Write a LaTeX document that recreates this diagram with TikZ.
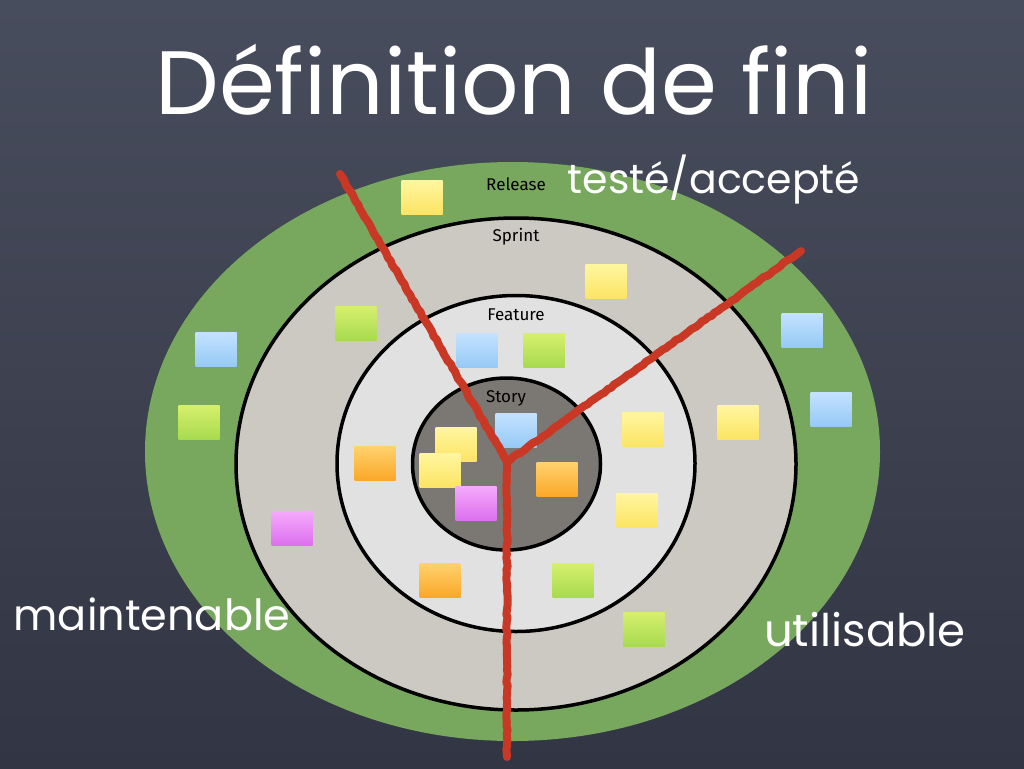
\documentclass[tikz,border=0pt]{standalone}
\usepackage{fontspec}
\setmainfont{Fira Sans}
\newfontfamily\chalk{Poppins}
\usetikzlibrary{decorations.pathmorphing}
\definecolor{bgtop}{RGB}{72,77,93}
\definecolor{bgbot}{RGB}{50,53,67}
\definecolor{relgreen}{RGB}{120,168,94}
\definecolor{sprintc}{RGB}{204,200,194}
\definecolor{featc}{RGB}{225,225,225}
\definecolor{storyc}{RGB}{123,120,116}
\definecolor{redline}{RGB}{200,56,36}
\definecolor{yelT}{RGB}{255,246,160}\definecolor{yelB}{RGB}{252,228,100}
\definecolor{bluT}{RGB}{196,226,255}\definecolor{bluB}{RGB}{150,202,246}
\definecolor{grnT}{RGB}{214,240,110}\definecolor{grnB}{RGB}{168,218,78}
\definecolor{orgT}{RGB}{255,210,110}\definecolor{orgB}{RGB}{250,168,40}
\definecolor{magT}{RGB}{246,170,252}\definecolor{magB}{RGB}{220,112,238}
\begin{document}
\begin{tikzpicture}[x=1pt,y=-1pt,
  note/.style={minimum width=41pt,minimum height=34pt,inner sep=0pt},
  ynote/.style={note,top color=yelT,bottom color=yelB},
  bnote/.style={note,top color=bluT,bottom color=bluB},
  gnote/.style={note,top color=grnT,bottom color=grnB},
  onote/.style={note,top color=orgT,bottom color=orgB},
  mnote/.style={note,top color=magT,bottom color=magB},
  ring/.style={draw=black,line width=3.5pt},
  lbl/.style={font=\fontsize{17}{19}\selectfont,text=black},
  chalktxt/.style={text=white,font=\chalk},
  chalkline/.style={draw=redline,line width=8pt,line cap=round,line join=round,
    decorate,decoration={random steps,segment length=4pt,amplitude=0.7pt}}]
\useasboundingbox (0,0) rectangle (1024,768);
\shade[top color=bgtop,bottom color=bgbot] (0,0) rectangle (1024,768);
% rings
\fill[relgreen] (512.5,451.5) ellipse [x radius=367.5pt,y radius=289.5pt];
\filldraw[ring,fill=sprintc] (516,464) ellipse [x radius=280pt,y radius=246pt];
\filldraw[ring,fill=featc] (516,463.5) ellipse [x radius=179pt,y radius=168pt];
\filldraw[ring,fill=storyc] (506.5,464) ellipse [x radius=94pt,y radius=86pt];
% ring labels
\node[lbl] (release) at (516,184) {Release};
\node[lbl] (sprint) at (516,237) {Sprint};
\node[lbl] (feature) at (516,315) {Feature};
\node[lbl] (story) at (506,398) {Story};
% sticky notes
\node[ynote] (n1) at (422,197) {};
\node[ynote] (n2) at (606,281) {};
\node[gnote] (n3) at (356,323) {};
\node[bnote] (n4) at (216,349) {};
\node[bnote] (n5) at (477,350) {};
\node[gnote] (n6) at (544,350) {};
\node[bnote] (n7) at (802,330) {};
\node[bnote] (n8) at (831,409) {};
\node[gnote] (n9) at (199,422) {};
\node[ynote] (n10) at (738,422) {};
\node[ynote] (n11) at (643,429) {};
\node[bnote] (n12) at (516,430) {};
\node[ynote] (n13) at (456,444) {};
\node[ynote] (n14) at (440,470) {};
\node[onote] (n15) at (375,463) {};
\node[onote] (n16) at (557,479) {};
\node[mnote] (n17) at (476,503) {};
\node[ynote] (n18) at (637,510) {};
\node[mnote] (n19) at (292,528) {};
\node[onote] (n20) at (440,580) {};
\node[gnote] (n21) at (573,580) {};
\node[gnote] (n22) at (644,629) {};
% red dividing lines
\coordinate (hub) at (507,462);
\coordinate (tl) at (340,174);
\coordinate (tr) at (801,251);
\coordinate (bot) at (507,757);
\draw[chalkline] (tl) -- (hub);
\draw[chalkline] (hub) -- (tr);
\draw[chalkline] (hub) -- (bot);
% chalk texts
\node[chalktxt,font=\chalk\fontsize{90}{92}\selectfont] (title) at (514,80) {Définition de fini};
\node[chalktxt,font=\chalk\fontsize{41}{44}\selectfont] (teste) at (714,180) {testé/accepté};
\node[chalktxt,font=\chalk\fontsize{43}{46}\selectfont] (maint) at (152,614) {maintenable};
\node[chalktxt,font=\chalk\fontsize{45}{48}\selectfont] (util) at (865,630) {utilisable};
\end{tikzpicture}
\end{document}
